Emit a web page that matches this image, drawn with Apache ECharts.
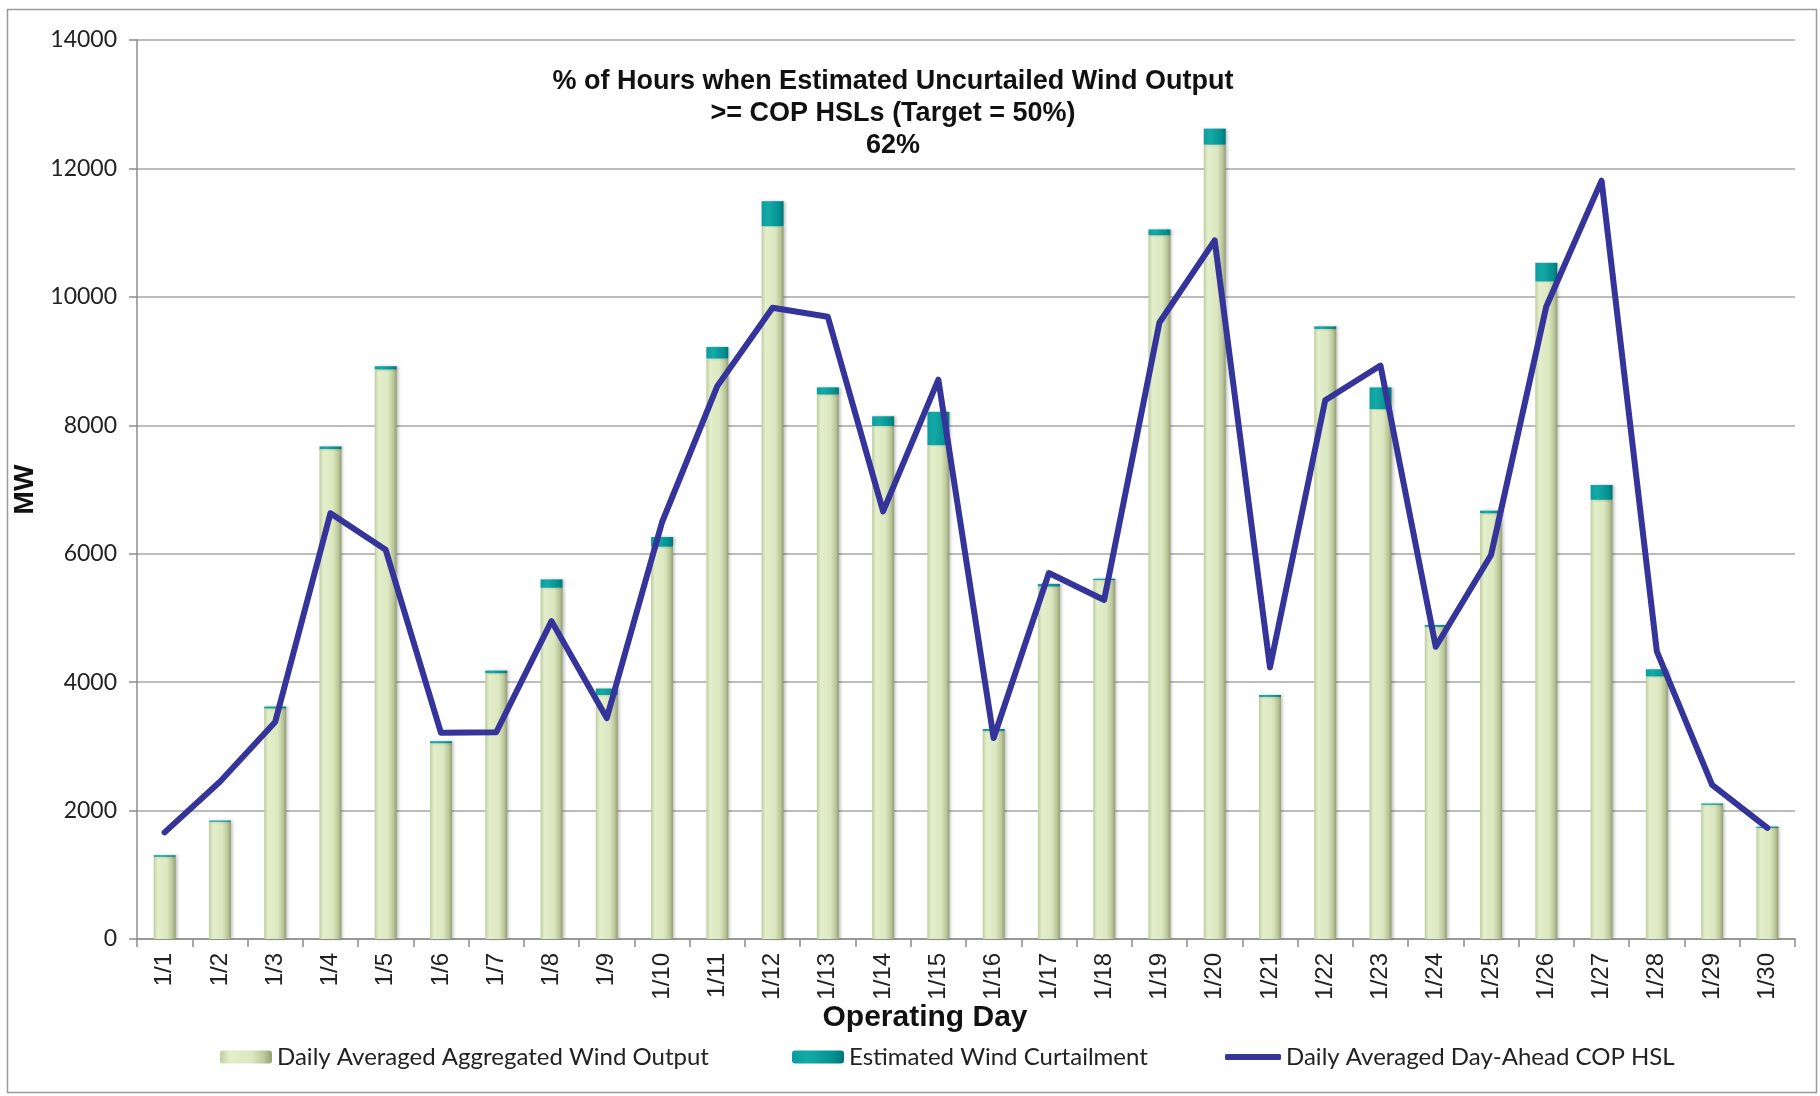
<!DOCTYPE html>
<html>
<head>
    <meta charset="utf-8">
    <title>Wind Output vs COP HSL</title>
    <script src="https://cdn.jsdelivr.net/npm/echarts@6.0.0/dist/echarts.min.js"></script>
    <style>
        html, body { margin: 0; padding: 0; background: #fff; }
    </style>
</head>
<body>
    <div id="windView" style="width: 1820px;height: 1096px;"></div>
</body>

<script>
    // operating days
    var days = ['1/1','1/2','1/3','1/4','1/5','1/6','1/7','1/8','1/9','1/10',
        '1/11','1/12','1/13','1/14','1/15','1/16','1/17','1/18','1/19','1/20',
        '1/21','1/22','1/23','1/24','1/25','1/26','1/27','1/28','1/29','1/30'];
    // MW
    var windOutput = [1280, 1825, 3590, 7630, 8870, 3050, 4140, 5470, 3800, 6110,
        9040, 11100, 8480, 7990, 7690, 3240, 5490, 5590, 10960, 12370,
        3770, 9500, 8250, 4860, 6630, 10240, 6840, 4090, 2090, 1730];
    var curtailment = [25, 20, 30, 40, 50, 30, 40, 130, 100, 150,
        180, 390, 110, 150, 520, 30, 40, 20, 90, 250,
        30, 40, 340, 30, 40, 290, 230, 110, 20, 20];
    var copHsl = [1660, 2450, 3380, 6630, 6060, 3210, 3220, 4950, 3440, 6490,
        8610, 9830, 9690, 6660, 8710, 3130, 5700, 5280, 9600, 10880,
        4230, 8390, 8930, 4550, 5980, 9850, 11810, 4480, 2400, 1730];
    var yTicks = [0, 2000, 4000, 6000, 8000, 10000, 12000, 14000];

    var greenFill = new echarts.graphic.LinearGradient(0, 0, 1, 0, [
        {offset: 0, color: '#c0cd9e'},
        {offset: 0.18, color: '#e3eecb'},
        {offset: 0.6, color: '#dce8c1'},
        {offset: 0.85, color: '#bcc89a'},
        {offset: 1, color: '#939f74'}
    ]);
    var tealFill = new echarts.graphic.LinearGradient(0, 0, 1, 0, [
        {offset: 0, color: '#0a9d9d'},
        {offset: 0.3, color: '#14aaa8'},
        {offset: 0.8, color: '#039090'},
        {offset: 1, color: '#007474'}
    ]);
    var legendFont = {fontFamily: 'Lato', fontSize: 24, color: '#222'};

    var windOption = {
        animation: false,
        backgroundColor: '#fff',
        title: {
            text: '% of Hours when Estimated Uncurtailed Wind Output\n>= COP HSLs (Target = 50%)\n62%',
            left: 888,
            top: 61,
            textAlign: 'center',
            textStyle: {
                fontFamily: '"Liberation Sans Narrow", "Liberation Sans", Arial',
                fontWeight: 'bold',
                fontSize: 27,
                lineHeight: 32,
                color: '#111'
            }
        },
        graphic: [{
            type: 'rect',
            shape: {x: 7.5, y: 9.5, width: 1809, height: 1083},
            style: {fill: 'none', stroke: '#9a9a9a', lineWidth: 1.5},
            silent: true
        }],
        legend: [
            {data: ['Daily Averaged Aggregated Wind Output'], left: 215, top: 1040,
                itemWidth: 52, itemHeight: 13, itemGap: 6, textStyle: legendFont},
            {data: ['Estimated Wind Curtailment'], left: 787, top: 1040,
                itemWidth: 52, itemHeight: 13, itemGap: 6, textStyle: legendFont},
            {data: [{name: 'Daily Averaged Day-Ahead COP HSL', icon: 'roundRect'}], left: 1220, top: 1040,
                itemWidth: 56, itemHeight: 6, itemGap: 3, textStyle: legendFont}
        ],
        grid: {
            left: 137,
            right: 25,
            top: 40,
            bottom: 157
        },
        xAxis: {
            type: 'category',
            data: days,
            name: 'Operating Day',
            nameLocation: 'middle',
            nameGap: 64,
            nameMoveOverlap: false,
            nameTextStyle: {
                fontFamily: '"Liberation Sans", Arial',
                fontWeight: 'bold',
                fontSize: 30,
                color: '#111',
                padding: [0, 82, 0, 0]
            },
            axisLine: {lineStyle: {color: '#8c8c8c', width: 1.5}},
            axisTick: {show: true, length: 8, lineStyle: {color: '#8c8c8c', width: 1.5}},
            axisLabel: {
                rotate: 90,
                margin: 14,
                fontFamily: '"Liberation Sans Narrow", "Liberation Sans", Arial',
                fontSize: 24,
                color: '#222'
            }
        },
        yAxis: {
            type: 'value',
            min: yTicks[0],
            max: yTicks[yTicks.length - 1],
            interval: 2000,
            name: 'MW',
            nameLocation: 'middle',
            nameGap: 96,
            nameTextStyle: {
                fontFamily: '"Liberation Sans", Arial',
                fontWeight: 'bold',
                fontSize: 28,
                color: '#111'
            },
            axisLine: {show: true, lineStyle: {color: '#8c8c8c', width: 1.5}},
            axisTick: {show: true, length: 8, lineStyle: {color: '#8c8c8c', width: 1.5}},
            axisLabel: {
                margin: 20,
                fontFamily: 'Lato',
                fontSize: 23,
                color: '#222',
                formatter: function (v) { return String(v); }
            },
            splitLine: {lineStyle: {color: '#a6a6a6', width: 1.5}}
        },
        series: [
            {
                name: 'Daily Averaged Aggregated Wind Output',
                type: 'bar',
                stack: 'wind',
                barWidth: 22,
                data: windOutput,
                itemStyle: {
                    color: greenFill,
                    shadowColor: 'rgba(0,0,0,0.25)',
                    shadowBlur: 3,
                    shadowOffsetX: 2
                }
            },
            {
                name: 'Estimated Wind Curtailment',
                type: 'bar',
                stack: 'wind',
                barWidth: 22,
                data: curtailment,
                itemStyle: {
                    color: tealFill,
                    shadowColor: 'rgba(0,0,0,0.25)',
                    shadowBlur: 3,
                    shadowOffsetX: 2
                }
            },
            {
                name: 'Daily Averaged Day-Ahead COP HSL',
                type: 'line',
                data: copHsl,
                symbol: 'none',
                z: 5,
                itemStyle: {color: '#35349a'},
                lineStyle: {color: '#35349a', width: 6, join: 'round', cap: 'round'}
            }
        ]
    };
    var windChart = echarts.init(document.getElementById('windView'));
    windChart.setOption(windOption, true);
</script>
</html>
